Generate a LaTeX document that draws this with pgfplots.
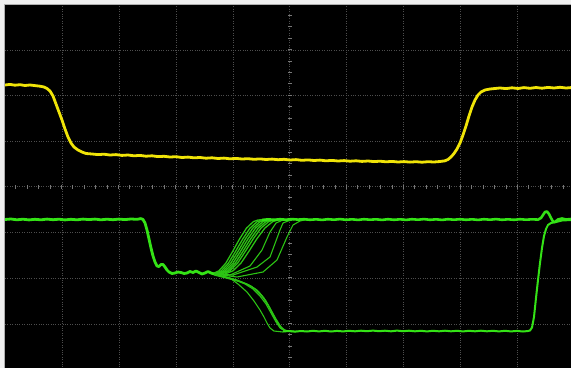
\documentclass[border=0pt]{standalone}
\usepackage{pgfplots}
\pgfplotsset{compat=1.18}
\definecolor{scopeyellow}{RGB}{240,228,8}
\definecolor{scopegreen}{RGB}{52,226,22}
\definecolor{fangreen}{RGB}{44,196,20}
\definecolor{gridgray}{RGB}{78,78,78}
\definecolor{tickgray}{RGB}{120,120,120}
\definecolor{framegray}{RGB}{175,175,175}
\begin{document}
\begin{tikzpicture}
\path[use as bounding box, fill={rgb,255:red,240;green,240;blue,240}] (0pt,0pt) rectangle (571pt,368pt);
\begin{axis}[
  at={(5pt,0pt)}, anchor=south west,
  scale only axis, width=566pt, height=364pt,
  xmin=5, xmax=571, ymin=4, ymax=368, y dir=reverse,
  axis background/.style={fill=black},
  axis line style={draw=none},
  xtick={62,119,176,233,289.5,346.5,403.5,460.5,517.5},
  ytick={50,95.5,141,186.5,232.5,278.5,324},
  xticklabels={}, yticklabels={},
  major tick length=0pt, tick style={draw=none},
  grid=major,
  major grid style={draw=gridgray, line width=0.8pt, dash pattern=on 0.8pt off 1.6pt},
]
% centre-line graticule ticks
\draw[tickgray, line width=4pt, dash pattern=on 1pt off 10.4pt] (axis cs:4,186.5) -- (axis cs:571,186.5);
\draw[tickgray, line width=4pt, dash pattern=on 1pt off 10.4pt] (axis cs:289.5,3.6) -- (axis cs:289.5,368);

% ---------- CH1 (yellow) ----------
\addplot[scopeyellow, line width=2.8pt, line join=round] coordinates {
(5,85)(10,84.4)(15,85.2)(20,84.7)(25,85.5)(30,85)(35,85.6)(40,86.2)(44,87)(47,88.5)(50,91)(53,96)(56,104)(59,112)(62,120)(65,129)(68,137)(71,143)(74,147)(78,150)(82,152)(86,153.5)
(92,154)(98,154.6)(104,154.2)(110,155)(116,154.6)(122,155.4)(128,155)(134,155.8)(140,155.4)(146,156.2)(152,155.8)(158,156.6)(164,156.3)(170,157)(176,156.7)(182,157.5)(188,157.1)(194,157.8)(200,157.5)(206,158.2)(212,157.8)(218,158.5)(224,158.1)(230,158.8)(236,158.4)(242,159)(248,158.7)(254,159.3)(260,158.9)(266,159.5)(272,159.1)(278,159.7)(284,159.3)(290,160)(296,159.6)(302,160.3)(308,159.9)(314,160.5)(320,160.1)(326,160.8)(332,160.4)(338,161)(344,160.6)(350,161.2)(356,160.8)(362,161.4)(368,161)(374,161.6)(380,161.2)(386,161.8)(392,161.4)(398,162)(404,161.6)(410,162.1)(416,161.7)(422,162.2)(428,161.7)(434,162)(440,161.5)(445,160.8)
(448,159.5)(451,157)(454,153.5)(457,149)(460,143)(463,135)(466,126)(469,116)(472,107)(475,100)(478,95)(481,92)(485,90)(490,89)(495,88.5)
(500,88)(506,88.6)(512,87.8)(518,88.5)(524,87.6)(530,88.3)(536,87.5)(542,88.2)(548,87.4)(554,88)(560,87.3)(566,88)(571,87.6)
};

% ---------- CH2 fan: rising traces ----------
\addplot[fangreen, line width=1.3pt] coordinates {(212,274)(218.9,270.8)(225.8,263.2)(232.7,251.3)(239.6,238.9)(246.5,228.1)(253.4,221.6)(258,220)(264,219.5)};
\addplot[fangreen, line width=1.3pt] coordinates {(214,274)(221.2,270.8)(228.4,263.2)(235.6,251.3)(242.8,238.9)(250,228.1)(257.2,221.6)(262,220)(268,219.5)};
\addplot[fangreen, line width=1.3pt] coordinates {(216,274)(223.4,270.8)(230.7,263.2)(238.1,251.3)(245.4,238.9)(252.8,228.1)(260.1,221.6)(265,220)(271,219.5)};
\addplot[fangreen, line width=1.3pt] coordinates {(218,274)(225.5,270.8)(233,263.2)(240.5,251.3)(248,238.9)(255.5,228.1)(263,221.6)(268,220)(274,219.5)};
\addplot[fangreen, line width=1.3pt] coordinates {(220,274)(227.7,270.8)(235.3,263.2)(243,251.3)(250.6,238.9)(258.3,228.1)(265.9,221.6)(271,220)(277,219.5)};
\addplot[fangreen, line width=1.3pt] coordinates {(222,274)(229.8,270.8)(237.6,263.2)(245.4,251.3)(253.2,238.9)(261,228.1)(268.8,221.6)(274,220)(280,219.5)};
\addplot[fangreen, line width=1.3pt] coordinates {(225,274)(233,270.8)(240.9,263.2)(248.9,251.3)(256.8,238.9)(264.8,228.1)(272.7,221.6)(278,220)(284,219.5)};
\addplot[fangreen, line width=1.1pt] coordinates {(214,274)(230,275)(250,266)(262,250)(270,232)(276,223)(283,220)(289,219.5)};
\addplot[fangreen, line width=1.1pt] coordinates {(214,274)(233,275)(257,267)(270,257)(280,230)(283,223)(288,221)(294,219.5)};
\addplot[fangreen, line width=1.1pt] coordinates {(214,274)(237,277)(263,272)(277,260)(287,237)(293,225)(300,221)(306,219.5)};

% ---------- CH2 fan: falling traces ----------
\addplot[fangreen, line width=1.1pt] coordinates {(214,274)(222,276)(230,278)(238,284)(247,292)(254,301)(260,310)(264,317)(267,323)(270,328)(274,331)(283,332)};
\addplot[fangreen, line width=1.1pt] coordinates {(214,274)(225,277)(235,280)(245,284)(253,289)(260,296)(266,304)(271,313)(276,322)(280,328)(285,331)(292,331.5)};
\addplot[fangreen, line width=1.1pt] coordinates {(214,274)(226,277)(237,280)(247,284)(255,289)(262,296)(268,305)(273,315)(278,324)(282,329)(287,331)(294,331.5)};
\addplot[fangreen, line width=1.1pt] coordinates {(214,274)(228,278)(239,281)(249,285)(257,290)(264,298)(270,308)(275,318)(280,326)(284,330)(289,331)(296,331.5)};
\addplot[fangreen, line width=1.1pt] coordinates {(214,275)(230,279)(241,282)(251,286)(259,292)(266,301)(271,310)(276,319)(281,327)(286,331)(290,331.5)(298,331.5)};

% ---------- CH2 main (bright) ----------
\addplot[scopegreen, line width=2.8pt, line join=round] coordinates {
(5,219.5)(11,219)(17,219.8)(23,219.2)(29,219.9)(35,219.3)(41,219.8)(47,219.1)(53,219.7)(59,219.2)(65,219.9)(71,219.3)(77,219.8)(83,219.1)(89,219.6)(95,219.1)(101,219.8)(107,219.2)(113,219.7)(119,219.1)(125,219.6)(131,219)(137,219.3)(141,218.6)
(143,219.5)(145,223)(147,230)(149,239)(151,248)(153,256)(155,262)(157,266)(159,266.5)(161,264.5)(163,264.5)(165,267)(167,270)(169,272)(172,273.5)(175,273)(178,272)(181,272.5)(184,273.5)(187,273)(190,271.5)(193,272.5)(196,271)(199,272.5)(202,274)(205,273)(208,271.5)(211,273)(214,274)
};
\addplot[scopegreen, line width=2.6pt, line join=round] coordinates {
(262,220)(268,219.3)(274,219.8)(280,219.2)(286,219.7)(292,219.1)(298,219.6)(304,219.2)(310,219.8)(316,219.3)(322,219.9)(328,219.2)(334,219.7)(340,219.1)(346,219.8)(352,219.3)(358,219.9)(364,219.2)(370,219.7)(376,219.3)(382,219.9)(388,219.2)(394,219.8)(400,219.3)(406,219.9)(412,219.2)(418,219.7)(424,219.1)(430,219.8)(436,219.3)(442,219.9)(448,219.2)(454,219.7)(460,219.2)(466,219.8)(472,219.3)(478,219.9)(484,219.2)(490,219.7)(496,219.1)(502,219.8)(508,219.3)(514,219.8)(520,219.2)(526,219.7)(532,219.3)(538,219.6)
(541,218)(543,215)(545,212)(547,211.5)(549,214)(551,218)(553,221.5)(555,222)(558,219.5)(562,218.5)(566,219.5)(571,219)
};
\addplot[scopegreen, line width=2pt, line join=round] coordinates {
(283,331.5)(289,331)(295,331.6)(301,331)(307,331.5)(313,330.8)(319,331.4)(325,330.8)(331,331.5)(337,330.9)(343,331.4)(349,330.8)(355,331.3)(361,330.7)(367,331.2)(373,330.6)(379,331.2)(385,330.7)(391,331.3)(397,330.6)(403,331.2)(409,330.7)(415,331.3)(421,330.8)(427,331.4)(433,330.8)(439,331.3)(445,330.7)(451,331.3)(457,330.8)(463,331.4)(469,330.8)(475,331.3)(481,330.7)(487,331.3)(493,330.8)(499,331.4)(505,330.8)(511,331.4)(517,330.9)(523,331.5)(528,331)
(530,330.5)(532,327.5)(534,317)(536,298)(538,280)(540,263)(542,248)(544,236)(546,229)(548,225)(551,223)(556,222)(562,220.5)(571,220)
};
\end{axis}
\draw[framegray, line width=1pt] (4.5pt,0pt) -- (4.5pt,364pt) -- (571pt,364pt);
\end{tikzpicture}
\end{document}
